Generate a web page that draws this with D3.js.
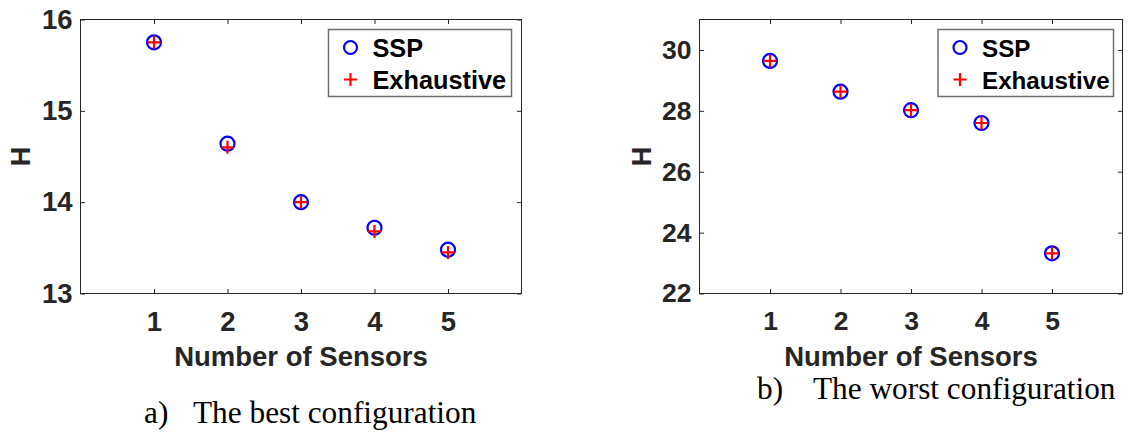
<!DOCTYPE html>
<html>
<head>
<meta charset="utf-8">
<script src="https://cdn.jsdelivr.net/npm/d3@7"></script>
<style>
  html, body { margin: 0; padding: 0; background: #fff; }
  svg { display: block; }
  .tick text { font-family: "Liberation Sans", Arial, sans-serif; font-weight: bold; fill: #262626; }
</style>
</head>
<body>
<svg id="fig" width="1144" height="439"></svg>
<script>
// Number of sensors placed
const sensors = [1, 2, 3, 4, 5];
const xTicks = [1, 2, 3, 4, 5];

// (a) best configuration: entropy H
const bestSSP        = [15.75, 14.64, 14.00, 13.72, 13.48];
const bestExhaustive = [15.75, 14.60, 14.00, 13.68, 13.45];
const bestYTicks = [13, 14, 15, 16];

// (b) worst configuration: entropy H
const worstSSP        = [29.64, 28.63, 28.02, 27.60, 23.32];
const worstExhaustive = [29.64, 28.63, 28.02, 27.60, 23.32];
const worstYTicks = [22, 24, 26, 28, 30];

const seriesNames = ["SSP", "Exhaustive"];

const svg = d3.select("#fig");
const AX = "#262626";
const SANS = "'Liberation Sans', Arial, sans-serif";
const SERIF = "'Liberation Serif', 'Times New Roman', serif";
const fmt = d3.format("d");

function panel(opt) {
  const x = d3.scaleLinear().domain([0, 6]).range([opt.left, opt.right]);
  const y = d3.scaleLinear().domain(opt.yDomain).range([opt.bottom, opt.top]);
  const g = svg.append("g");

  // bottom axis with inward ticks
  const gx = g.append("g")
    .attr("transform", `translate(0,${opt.bottom})`)
    .call(d3.axisBottom(x).tickValues(xTicks).tickFormat(fmt).tickSizeInner(-4.5).tickSizeOuter(0).tickPadding(18));
  // top ticks
  g.append("g")
    .attr("transform", `translate(0,${opt.top})`)
    .call(d3.axisTop(x).tickValues(xTicks).tickSizeInner(-4.5).tickSizeOuter(0).tickFormat(""));
  // left axis
  const gy = g.append("g")
    .attr("transform", `translate(${opt.left},0)`)
    .call(d3.axisLeft(y).tickValues(opt.yTicks).tickFormat(fmt).tickSizeInner(-4.5).tickSizeOuter(0).tickPadding(8));
  // right ticks
  g.append("g")
    .attr("transform", `translate(${opt.right},0)`)
    .call(d3.axisRight(y).tickValues(opt.yTicks).tickSizeInner(-4.5).tickSizeOuter(0).tickFormat(""));

  g.selectAll(".domain").remove();
  g.selectAll(".tick line").attr("stroke", AX).attr("stroke-width", 1);
  gx.selectAll(".tick text").attr("font-size", opt.tickFont).attr("fill", AX);
  gy.selectAll(".tick text").attr("font-size", opt.tickFont).attr("fill", AX);

  // axes box
  g.append("rect")
    .attr("x", opt.left).attr("y", opt.top)
    .attr("width", opt.right - opt.left).attr("height", opt.bottom - opt.top)
    .attr("fill", "none").attr("stroke", AX).attr("stroke-width", 1);

  // SSP: blue circles
  g.append("g").selectAll("circle")
    .data(sensors.map((s, i) => [s, opt.ssp[i]]))
    .join("circle")
    .attr("cx", d => x(d[0])).attr("cy", d => y(d[1]))
    .attr("r", 7).attr("fill", "none").attr("stroke", "#0000ff").attr("stroke-width", 2.2);

  // Exhaustive: red plus signs
  const plusPath = (cx, cy, h) => `M${cx - h},${cy}H${cx + h}M${cx},${cy - h}V${cy + h}`;
  g.append("g").selectAll("path")
    .data(sensors.map((s, i) => [s, opt.exh[i]]))
    .join("path")
    .attr("d", d => plusPath(x(d[0]), y(d[1]), 6.5))
    .attr("fill", "none").attr("stroke", "#ff0000").attr("stroke-width", 2.2);

  // axis labels
  g.append("text")
    .attr("x", (opt.left + opt.right) / 2).attr("y", 366)
    .attr("text-anchor", "middle")
    .attr("font-family", SANS).attr("font-weight", "bold").attr("font-size", 27.5)
    .attr("fill", AX).text("Number of Sensors");
  g.append("text")
    .attr("transform", `translate(${opt.ylabelX},${(opt.top + opt.bottom) / 2}) rotate(-90)`)
    .attr("text-anchor", "middle")
    .attr("font-family", SANS).attr("font-weight", "bold").attr("font-size", 27)
    .attr("fill", AX).text("H");

  // legend
  const lg = g.append("g");
  lg.append("rect")
    .attr("x", opt.legX).attr("y", 29.5)
    .attr("width", opt.legW).attr("height", 67)
    .attr("fill", "#fff").attr("stroke", "#6e6e6e").attr("stroke-width", 1.5);
  lg.append("circle")
    .attr("cx", opt.legX + 22).attr("cy", 47.5).attr("r", 6.5)
    .attr("fill", "none").attr("stroke", "#0000ff").attr("stroke-width", 2.2);
  lg.append("path")
    .attr("d", plusPath(opt.legX + 22, 79.5, 6.5))
    .attr("fill", "none").attr("stroke", "#ff0000").attr("stroke-width", 2.2);
  lg.selectAll("text.leg")
    .data(seriesNames)
    .join("text")
    .attr("class", "leg")
    .attr("x", opt.legX + 44).attr("y", (d, i) => 56.5 + i * 32)
    .attr("font-family", SANS).attr("font-weight", "bold").attr("font-size", opt.legFont)
    .attr("fill", "#000").text(d => d);

  // caption
  const cap = g.append("text")
    .attr("font-family", SERIF).attr("font-size", 31.3).attr("fill", "#000")
    .attr("y", opt.capY);
  cap.append("tspan").attr("x", opt.capX).text(opt.capTag);
  cap.append("tspan").attr("x", opt.capX + opt.capGap).text(opt.capText);
}

panel({
  left: 80.5, right: 521.5, top: 19.5, bottom: 293.5,
  yDomain: [13, 16], yTicks: bestYTicks,
  ssp: bestSSP, exh: bestExhaustive,
  tickFont: 27.5, legFont: 25.3,
  ylabelX: 29.5, legX: 328.5, legW: 183,
  capX: 144, capGap: 49, capY: 423, capTag: "a)", capText: "The best configuration"
});

panel({
  left: 699.5, right: 1122.5, top: 19.5, bottom: 293.5,
  yDomain: [22, 31], yTicks: worstYTicks,
  ssp: worstSSP, exh: worstExhaustive,
  tickFont: 26.5, legFont: 24.2,
  ylabelX: 650.5, legX: 938, legW: 175.5,
  capX: 757, capGap: 56, capY: 399, capTag: "b)", capText: "The worst configuration"
});
</script>
</body>
</html>
